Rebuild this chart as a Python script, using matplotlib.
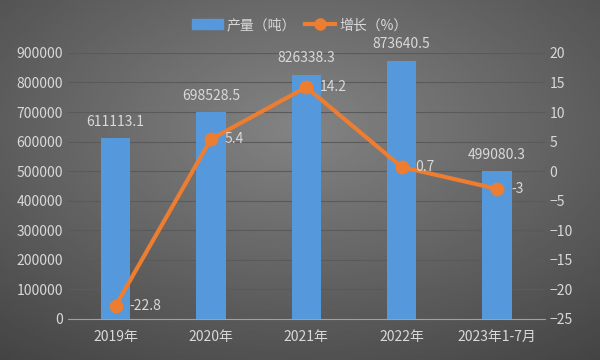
import matplotlib.pyplot as plt
import numpy as np

plt.rcParams['font.family'] = ['Noto Sans CJK SC', 'DejaVu Sans']

categories = ['2019年', '2020年', '2021年', '2022年', '2023年1-7月']
output = [611113.1, 698528.5, 826338.3, 873640.5, 499080.3]
growth = [-22.8, 5.4, 14.2, 0.7, -3]

txt = '#d9d9d9'
fig = plt.figure(figsize=(6, 3.6), dpi=100)

# dark radial background
bg = fig.add_axes([0, 0, 1, 1], zorder=-10)
yy, xx = np.mgrid[-1:1:200j, -1:1:300j]
r = np.sqrt(xx ** 2 + (yy + 0.3) ** 2)
bg.imshow(-r, cmap='gray', vmin=-3.4, vmax=3.2, aspect='auto', extent=[0, 1, 0, 1])
bg.set_axis_off()

ax = fig.add_axes([0.113, 0.114, 0.795, 0.739])
ax.patch.set_alpha(0)
x = np.arange(len(categories))
bars = ax.bar(x, output, width=0.31, color='#5599dc', zorder=2)
ax.set_ylim(0, 900000)
ax.set_yticks(np.arange(0, 900001, 100000))
ax.set_xlim(-0.5, len(categories) - 0.5)
ax.set_xticks(x)
ax.set_xticklabels(categories)
ax.grid(axis='y', color='#5a5a5a', linewidth=0.8, zorder=0)
for s in ['top', 'right', 'left']:
    ax.spines[s].set_visible(False)
ax.spines['bottom'].set_color('#a0a0a0')
ax.tick_params(colors=txt, labelsize=10, length=0)
ax.tick_params(axis='x', pad=8)
for xi, v in zip(x, output):
    ax.annotate(f'{v:.1f}', (xi, v), xytext=(0, 7), textcoords='offset points',
                ha='center', va='bottom', color=txt, fontsize=10)

ax2 = ax.twinx()
ax2.plot(x, growth, color='#ed7d31', linewidth=3, marker='o', markersize=9, zorder=3)
ax2.set_ylim(-25, 20)
ax2.set_yticks(np.arange(-25, 21, 5))
for s in ax2.spines.values():
    s.set_visible(False)
ax2.tick_params(colors=txt, labelsize=10, length=0)
for xi, v in zip(x, growth):
    ax2.annotate(f'{v:g}', (xi, v), xytext=(10, 0), textcoords='offset points',
                 ha='left', va='center', color=txt, fontsize=10)

h1 = plt.Rectangle((0, 0), 1, 1, color='#5599dc')
h2, = ax2.plot([], [], color='#ed7d31', linewidth=3, marker='o', markersize=8)
fig.legend([h1, h2], ['产量（吨）', '增长（%）'], loc='center', bbox_to_anchor=(0.5, 0.93),
           ncol=2, frameon=False, labelcolor=txt, fontsize=10, handlelength=2.2, columnspacing=0.6,
           handletextpad=0.3)

fig.savefig('out.png', dpi=100)
